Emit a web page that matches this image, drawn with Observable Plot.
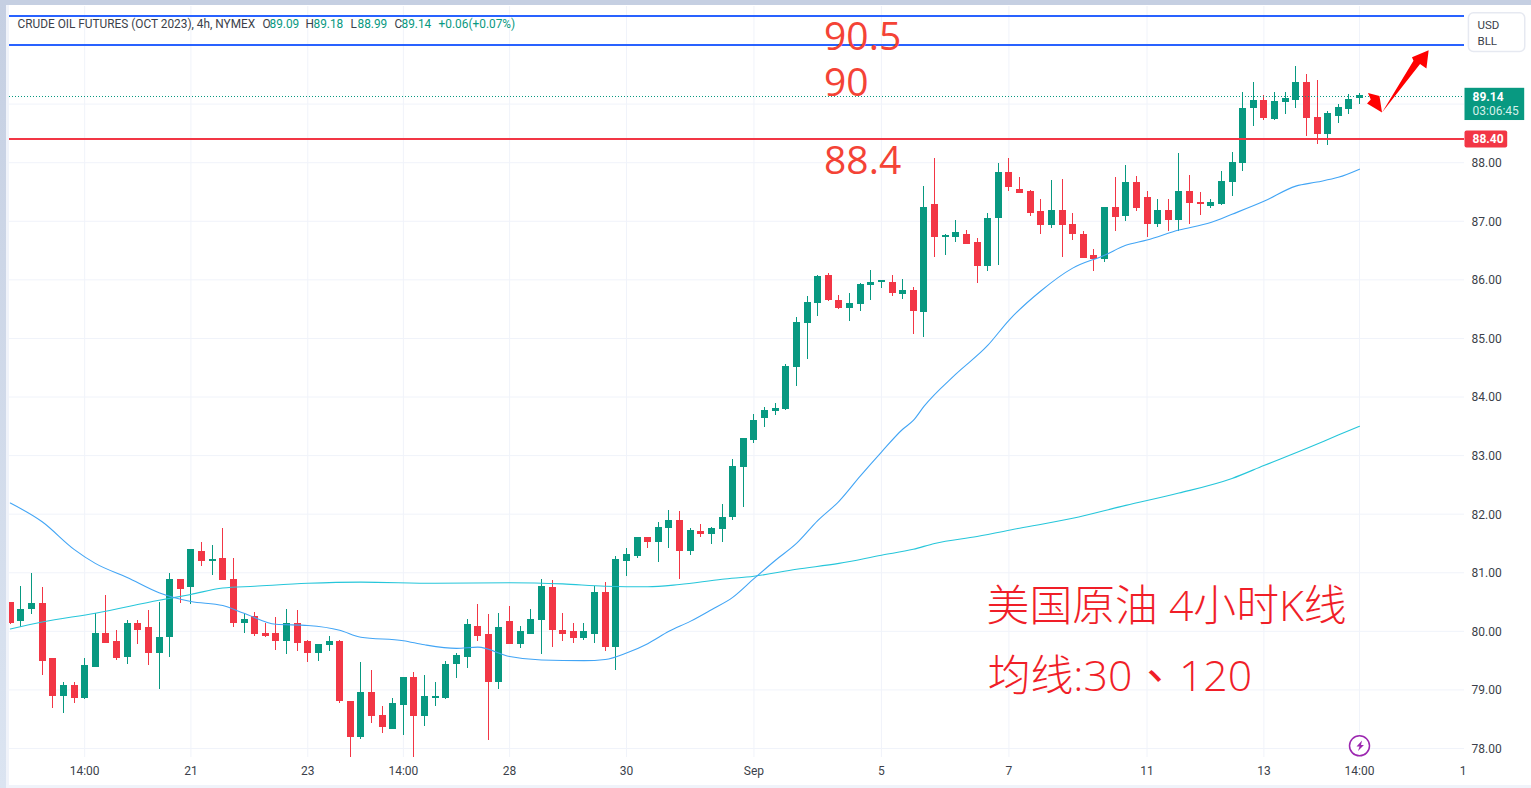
<!DOCTYPE html>
<html><head><meta charset="utf-8">
<script src="https://cdn.jsdelivr.net/npm/d3@7"></script>
<script src="https://cdn.jsdelivr.net/npm/@observablehq/plot@0.6"></script>
<style>
html,body{margin:0;padding:0;background:#fff;width:1531px;height:788px;overflow:hidden}
#bandL{position:absolute;left:0;top:0;width:6px;height:788px;background:linear-gradient(#c5cfe2,#dbe4f1)}
#bandT{position:absolute;left:0;top:0;width:1531px;height:5px;background:#c5cfe2}
#innerL{position:absolute;left:6px;top:5px;width:3px;height:783px;background:#f0f3fa}
#bandB{position:absolute;left:6px;top:785px;width:1525px;height:3px;background:#f0f3fa}
#chart{position:absolute;left:0;top:0}
</style></head><body>
<div id="bandL"></div><div id="innerL"></div><div id="bandT"></div><div id="bandB"></div>
<div id="chart"></div>
<script>
const open=[80.50,80.16,80.38,80.48,79.53,78.89,79.07,78.86,79.39,79.97,79.82,79.56,80.13,80.06,79.63,79.89,80.88,80.74,81.37,81.19,81.24,80.89,80.14,80.25,79.97,79.97,79.83,80.14,79.82,79.63,79.75,79.82,78.81,78.18,78.96,78.57,78.33,78.74,79.22,78.55,78.86,78.86,79.44,79.56,80.09,79.94,79.12,80.16,79.77,79.95,80.19,80.74,80.02,79.99,79.87,79.95,80.66,79.73,81.20,81.27,81.60,81.51,81.75,81.90,81.37,81.70,81.65,81.73,81.94,82.79,83.25,83.63,83.75,83.78,84.50,85.25,85.60,86.07,85.65,85.51,85.58,85.90,85.95,85.95,85.75,85.82,85.45,87.28,86.72,86.72,86.78,86.63,86.22,87.04,87.83,87.55,87.50,87.16,86.92,87.19,86.94,86.78,86.41,86.34,87.23,87.09,87.67,87.40,86.94,87.18,87.01,87.50,87.32,87.25,87.29,87.66,87.99,88.93,89.07,88.74,89.03,89.07,89.37,88.77,88.48,88.79,88.91,89.09];
const high=[80.50,80.77,80.98,80.74,79.53,79.12,79.12,79.53,80.30,80.62,80.01,80.19,80.19,80.36,80.50,80.98,80.88,81.39,81.51,81.46,81.75,81.24,80.30,80.33,80.13,80.23,80.38,80.35,79.84,79.77,79.92,79.84,78.81,79.46,79.34,78.71,78.86,79.22,79.29,79.25,79.13,79.48,79.63,80.21,80.45,80.28,80.31,80.42,80.09,80.38,80.88,80.86,80.30,80.13,80.13,80.76,80.83,81.27,81.41,81.61,81.61,81.85,82.06,82.04,81.75,81.82,81.78,82.16,82.93,83.29,83.70,83.82,83.89,84.55,85.36,85.72,86.07,86.11,85.73,85.77,85.94,86.16,85.99,86.07,86.01,85.87,87.60,88.08,86.78,87.01,86.85,86.70,87.13,87.98,88.08,87.74,87.52,87.38,87.69,87.72,87.13,86.82,86.51,87.24,87.74,87.96,87.77,87.50,87.38,87.38,88.15,87.79,87.49,87.37,87.85,88.18,89.20,89.37,89.15,89.19,89.20,89.65,89.51,89.41,88.88,89.00,89.17,89.18];
const low=[80.11,80.06,80.28,79.24,78.69,78.60,78.76,78.84,79.39,79.80,79.51,79.44,79.77,79.41,79.01,79.56,80.47,80.45,81.10,80.96,80.86,80.06,79.97,79.92,79.89,79.68,79.60,79.65,79.46,79.49,79.66,78.76,77.84,78.16,78.43,78.26,78.33,78.23,77.84,78.38,78.71,78.84,79.20,79.36,79.82,78.14,79.01,79.77,79.70,79.95,79.61,79.72,79.82,79.80,79.85,79.80,79.66,79.34,80.93,81.25,81.41,81.17,81.41,80.88,81.30,81.61,81.49,81.51,81.89,82.11,83.20,83.48,83.68,83.77,84.18,84.64,85.37,85.63,85.49,85.29,85.46,85.65,85.85,85.72,85.66,85.07,85.02,86.39,86.42,86.63,86.61,85.93,86.15,86.24,87.50,87.47,87.09,86.78,86.87,86.39,86.68,86.37,86.15,86.30,86.83,86.99,87.16,86.72,86.90,86.82,86.83,86.94,87.10,87.22,87.27,87.42,87.85,88.62,88.72,88.72,88.83,88.93,88.45,88.31,88.30,88.67,88.83,88.99];
const close=[80.14,80.38,80.47,79.49,78.88,79.07,78.86,79.41,79.97,79.80,79.54,80.13,80.02,79.63,79.89,80.88,80.72,81.39,81.19,81.22,80.86,80.13,80.21,79.95,79.92,79.83,80.13,79.80,79.63,79.77,79.83,78.81,78.18,78.96,78.54,78.35,78.76,79.22,78.55,78.88,78.88,79.44,79.58,80.11,79.92,79.12,80.06,79.78,79.99,80.21,80.76,80.02,79.95,79.87,79.99,80.66,79.72,81.22,81.32,81.60,81.51,81.78,81.90,81.37,81.72,81.65,81.75,81.95,82.81,83.29,83.60,83.77,83.80,84.52,85.27,85.61,86.06,85.65,85.51,85.60,85.92,85.95,85.99,85.77,85.82,85.46,87.23,86.72,86.75,86.80,86.61,86.22,87.04,87.84,87.57,87.48,87.14,86.92,87.19,86.92,86.77,86.37,86.34,87.24,87.07,87.67,87.21,86.94,87.18,87.01,87.50,87.31,87.29,87.32,87.68,88.01,88.93,89.07,88.76,89.05,89.10,89.37,88.76,88.48,88.84,88.95,89.08,89.14];

const ma30Idx=[0,3,6,8,11,14,17,20,22,25,28,31,33,37,39,42,44,47,50,54,56,58,60,62,64,66,68,70,72,74,76,78,80,82,84,85,86,89,92,94,97,100,103,105,107,110,113,115,118,121,123,125,127];
const ma30Val=[82.19,81.87,81.40,81.16,80.92,80.66,80.51,80.44,80.31,80.12,80.10,80.02,79.90,79.84,79.77,79.71,79.73,79.57,79.51,79.50,79.52,79.63,79.79,80.00,80.17,80.37,80.58,80.90,81.21,81.50,81.89,82.22,82.65,83.06,83.45,83.60,83.84,84.39,84.88,85.31,85.81,86.20,86.42,86.59,86.68,86.85,86.98,87.12,87.34,87.60,87.67,87.75,87.89];
const ma120Idx=[0,3,8,14,17,20,23,28,33,40,47,52,56,60,63,67,70,74,78,82,85,87,91,95,100,105,110,115,118,122,125,127];
const ma120Val=[80.04,80.16,80.31,80.53,80.63,80.74,80.77,80.82,80.84,80.82,80.83,80.81,80.77,80.76,80.80,80.89,80.94,81.06,81.16,81.30,81.40,81.50,81.62,81.76,81.93,82.15,82.36,82.61,82.83,83.12,83.35,83.50];

const xTickIdx=[7,17,28,37,47,58,70,82,94,107,118,127,136.75];
const xTickLabels=["14:00","21","23","14:00","28","30","Sep","5","7","11","13","14:00","1"];
const yTicks=[78,79,80,81,82,83,84,85,86,87,88];
const yGrid=[78,79,80,81,82,83,84,85,86,87,88,89,90];

const level905=90.5, level90=90, level884=88.4, lastPrice=89.14;

const noteLabels=["90.5","90","88.4"], noteX=[76.6,76.6,76.6], noteY=[90.135,89.355,88.025];
const cnFont='"Open Sans","Noto Sans CJK SC"';
const cnLabels=["美国原油 4小时K线","均线:30","120"], cnX=[91.9,92.0,110.0], cnY=[80.41,79.22,79.22];
const cnMark=["、"], cnMarkX=[107.74], cnMarkY=[79.2];

const arrowSmallX=[129.12,127.71,128.06,127.80,128.88], arrowSmallY=[88.857,89.01,89.08,89.19,89.14];
const arrowBigX=[129.12,132.08,131.94,133.51,133.30,132.70], arrowBigY=[88.857,89.74,89.80,89.92,89.61,89.685];
const boltX=[127.24,126.72,127.0,126.86,127.42,127.14], boltY=[78.137,78.034,78.034,77.957,78.06,78.06];

const UP="#089981", DOWN="#f23645", BLUE="#2962ff", GRID="#f0f3fa", MA30="#42a5f5", MA120="#26c6da";
const TXT="#3b3f4a";

const candles=open.map((o,i)=>({i,o,h:high[i],l:low[i],c:close[i]}));
const ups=candles.filter(d=>d.c>=d.o), downs=candles.filter(d=>d.c<d.o);
const ma30=ma30Idx.map((x,i)=>({x,y:ma30Val[i]}));
const ma120=ma120Idx.map((x,i)=>({x,y:ma120Val[i]}));
const zipXY=(xs,ys)=>xs.map((x,i)=>({x,y:ys[i]}));

function candleMarks(data,color){
  return [
    Plot.ruleX(data,{x:"i",y1:"l",y2:"h",stroke:color,strokeWidth:1,clip:true,shapeRendering:"crispEdges"}),
    Plot.ruleX(data,{x:"i",y1:d=>Math.min(d.o,d.c),y2:d=>Math.max(d.o,d.c),stroke:color,strokeWidth:7,clip:true,shapeRendering:"crispEdges"})
  ];
}
function hdr(txt,dx,color){
  return Plot.text([txt],{text:d=>d,frameAnchor:"top-left",dx:dx-9,dy:17.5,textAnchor:"start",lineAnchor:"middle",fill:color,fontSize:11.85,fontFamily:"Roboto"});
}

const chart=Plot.plot({
  width:1531,height:788,marginLeft:9,marginRight:67,marginTop:6,marginBottom:31,
  style:{background:"none",fontFamily:"Roboto",overflow:"visible"},
  x:{type:"linear",domain:[0,127],range:[9.8,1359],axis:null},
  y:{type:"linear",domain:[78,88],range:[748,162.2],axis:null},
  marks:[
    Plot.gridX(xTickIdx.slice(0,-1),{stroke:GRID,strokeOpacity:1,strokeWidth:1}),
    Plot.gridY(yGrid,{stroke:GRID,strokeOpacity:1,strokeWidth:1}),
    ...candleMarks(ups,UP),
    ...candleMarks(downs,DOWN),
    Plot.line(ma120,{x:"x",y:"y",stroke:MA120,strokeWidth:1.1,curve:"monotone-x",clip:true}),
    Plot.line(ma30,{x:"x",y:"y",stroke:MA30,strokeWidth:1.1,curve:"monotone-x",clip:true}),
    Plot.ruleY([lastPrice],{stroke:UP,strokeWidth:1,strokeDasharray:"1,2",dy:0.5,shapeRendering:"crispEdges"}),
    Plot.ruleY([level884],{stroke:DOWN,strokeWidth:2,dy:-0.5,shapeRendering:"crispEdges"}),
    Plot.ruleY([level905,level90],{stroke:BLUE,strokeWidth:2,dy:-0.5,shapeRendering:"crispEdges"}),
    Plot.axisX({anchor:"bottom",ticks:xTickIdx,tickSize:0,tickPadding:9,fontSize:12,fill:TXT,tickFormat:d=>xTickLabels[xTickIdx.indexOf(d)],label:null}),
    Plot.axisY({anchor:"right",ticks:yTicks,tickSize:0,tickPadding:7,dy:0.5,fontSize:12,fill:TXT,tickFormat:d3.format(".2f"),label:null}),
    Plot.text(noteLabels,{x:noteX,y:noteY,text:d=>d,textAnchor:"start",lineAnchor:"middle",fontSize:39,fontFamily:"Open Sans",fill:"#f44336"}),
    Plot.text(cnLabels,{x:cnX,y:cnY,text:d=>d,textAnchor:"start",lineAnchor:"middle",fontSize:42.8,fontWeight:300,fontFamily:cnFont,fill:"#f01e28"}),
    Plot.text(cnMark,{x:cnMarkX,y:cnMarkY,text:d=>d,textAnchor:"middle",lineAnchor:"middle",fontSize:42.8,fontFamily:"Noto Sans CJK TC",fill:"#f01e28"}),
    Plot.line(zipXY(arrowSmallX,arrowSmallY),{x:"x",y:"y",fill:"#ff0000",stroke:"none"}),
    Plot.line(zipXY(arrowBigX,arrowBigY),{x:"x",y:"y",fill:"#ff0000",stroke:"none"}),
    Plot.rect([0],{x1:[137.3],x2:[142.6],y1:[89.89],y2:[90.55],fill:"#fff",stroke:"#e6e9f1",strokeWidth:1.5,rx:5}),
    Plot.text(["USD"],{text:d=>d,frameAnchor:"top-right",dx:13,dy:19,textAnchor:"start",lineAnchor:"middle",fontSize:11.5,fill:TXT}),
    Plot.text(["BLL"],{text:d=>d,frameAnchor:"top-right",dx:13,dy:35,textAnchor:"start",lineAnchor:"middle",fontSize:11.5,fill:TXT}),
    Plot.rect([0],{x1:[136.93],x2:[142.55],y1:[88.72],y2:[89.27],fill:UP}),
    Plot.rect([0],{x1:[136.93],x2:[140.95],y1:[88.25],y2:[88.54],fill:DOWN,rx:2}),
    Plot.text(["89.14"],{text:d=>d,frameAnchor:"top-right",dx:8,dy:90.5,textAnchor:"start",lineAnchor:"middle",fontSize:12,fontWeight:700,fill:"#fff"}),
    Plot.text(["03:06:45"],{text:d=>d,frameAnchor:"top-right",dx:8,dy:104.5,textAnchor:"start",lineAnchor:"middle",fontSize:12,fill:"#d4f0ea"}),
    Plot.text(["88.40"],{text:d=>d,frameAnchor:"top-right",dx:8,dy:133,textAnchor:"start",lineAnchor:"middle",fontSize:12,fontWeight:700,fill:"#fff"}),
    Plot.dot([0],{x:[127],y:[78.046],r:10,stroke:"#9c27b0",strokeWidth:1.5,fill:"#fff"}),
    Plot.line(zipXY(boltX,boltY),{x:"x",y:"y",fill:"#9c27b0",stroke:"none"}),
    hdr("CRUDE OIL FUTURES (OCT 2023), 4h, NYMEX",17,TXT),
    hdr("O",262,TXT),hdr("89.09",269,UP),
    hdr("H",305,TXT),hdr("89.18",313,UP),
    hdr("L",350,TXT),hdr("88.99",357,UP),
    hdr("C",394,TXT),hdr("89.14",401,UP),
    hdr("+0.06",438,UP),hdr("(+0.07%)",468,UP)
  ]
});
document.getElementById("chart").appendChild(chart);
</script>
</body></html>
